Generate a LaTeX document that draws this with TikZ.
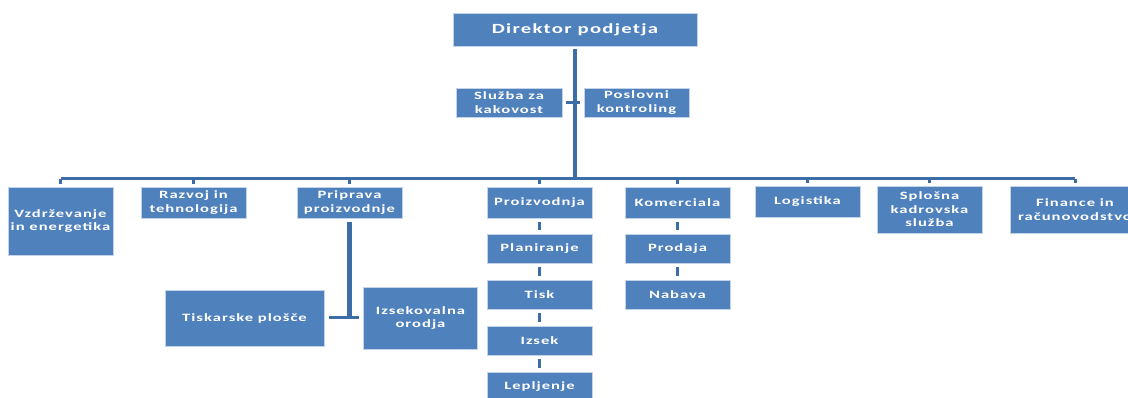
\documentclass[tikz,border=0pt]{standalone}
\usepackage{fontspec}
\newfontfamily\boxfont{Carlito}[FakeStretch=1.48,LetterSpace=9]
\usetikzlibrary{positioning}
\definecolor{boxfill}{HTML}{4F81BD}
\definecolor{boxedge}{HTML}{C3D4EA}
\definecolor{linkblue}{HTML}{3D6DA6}
\tikzstyle{unit}=[rectangle,draw=boxedge,line width=0.6pt,fill=boxfill,text=white,
  font=\boxfont\fontsize{11.2}{13.6}\selectfont\bfseries,align=center,inner sep=0pt,
  minimum width=105pt,minimum height=31pt]
\tikzstyle{trunk}=[draw=linkblue,line width=4.5pt]
\tikzstyle{bar}=[draw=linkblue,line width=3pt]
\tikzstyle{link}=[draw=linkblue,line width=3pt,shorten >=3.5pt,shorten <=3.5pt]

\begin{document}
\begin{tikzpicture}[x=1pt,y=-1pt,node distance=46pt]
  \useasboundingbox (0,0) rectangle (1128,398);
  \clip (0,0) rectangle (1128,398);
  % top
  \node[unit,minimum width=244pt,minimum height=33pt,
    font=\boxfont\fontsize{14}{16}\selectfont\bfseries] (dir) at (575,29.5) {Direktor podjetja};
  \node[unit,minimum width=106pt,minimum height=29pt] (kak) at (509,102.5) {Služba za\\kakovost};
  \node[unit,minimum height=29pt] (kon) at (636.5,102.5) {Poslovni\\kontroling};
  \coordinate (bus) at (575,179);
  % departments
  \node[unit,minimum height=68pt] (vzd) at (60.5,221) {Vzdrževanje\\in energetika};
  \node[unit] (raz) at (193.5,202.5) {Razvoj in\\tehnologija};
  \node[unit] (pri) at (349.5,202.5) {Priprava\\proizvodnje};
  \node[unit] (pro) at (539.5,202.5) {Proizvodnja};
  \node[unit] (kom) at (677.5,202.5) {Komerciala};
  \node[unit] (log) at (807.5,202) {Logistika};
  \node[unit,minimum height=47pt] (spl) at (929.5,209.5) {Splošna\\kadrovska\\služba};
  \node[unit,minimum width=130pt,minimum height=47pt] (fin) at (1075,209.5) {Finance in\\računovodstvo};
  % sub units
  \node[unit,minimum height=29pt] (pla) [below of=pro] {Planiranje};
  \node[unit,minimum height=29pt] (tis) [below of=pla] {Tisk};
  \node[unit,minimum height=29pt] (izk) [below of=tis] {Izsek};
  \node[unit,minimum height=29pt] (lep) [below of=izk] {Lepljenje};
  \node[unit,minimum height=29pt] (pro2) [below of=kom] {Prodaja};
  \node[unit,minimum height=29pt] (nab) [below of=pro2] {Nabava};
  \node[unit,minimum width=159pt,minimum height=56pt] (tpl) at (244.5,318) {Tiskarske plošče};
  \node[unit,minimum width=114pt,minimum height=62pt] (izs) at (420.5,318) {Izsekovalna\\orodja};

  \draw[trunk,shorten <=3pt] (dir) -- (bus);
  \draw[bar] (vzd.north |- bus) -- (fin.north |- bus);
  \foreach \n in {vzd,raz,pri,pro,kom,log,spl,fin}
    \draw[bar] (\n.north |- bus) -- ([yshift=3pt]\n.north);
  \draw[bar,shorten >=4pt,shorten <=4pt] (kak) -- (kon);
  \path[link] (pro) edge (pla)
    (pla) edge (tis)
    (tis) edge (izk)
    (izk) edge (lep)
    (kom) edge (pro2)
    (pro2) edge (nab);
  \draw[trunk,shorten <=4pt] (pri) -- (pri |- tpl);
  \draw[bar,shorten >=4pt,shorten <=5pt] (tpl) -- (izs);
\end{tikzpicture}
\end{document}
